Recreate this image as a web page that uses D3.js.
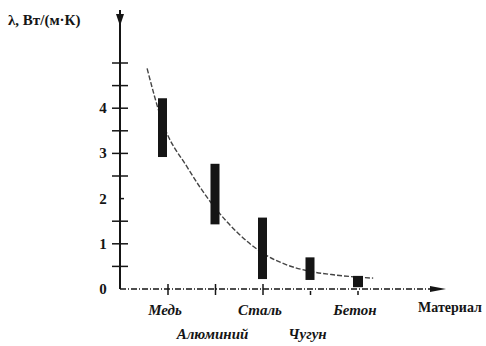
<!DOCTYPE html>
<html>
<head>
<meta charset="utf-8">
<script src="https://cdn.jsdelivr.net/npm/d3@7"></script>
<style>
  body { margin: 0; background: #fff; }
</style>
</head>
<body>
<div id="chart"></div>
<script>
// Materials along the x axis
const materials = ["Медь", "Алюминий", "Сталь", "Чугун", "Бетон"];
// Range of conductivity for each material (low, high)
const rangeLow = [2.92, 1.43, 0.22, 0.20, 0.04];
const rangeHigh = [4.22, 2.77, 1.58, 0.70, 0.29];
// Trend curve drawn through the bars (position in category units, value)
const curvePos = [-0.44, -0.13, 0.42, 0.95, 1.45, 2.0, 2.46, 2.95, 3.52, 4.32];
const curveVal = [4.88, 3.73, 2.67, 1.85, 1.26, 0.79, 0.55, 0.40, 0.31, 0.24];
// y tick labels
const yLabels = [0, 1, 2, 3, 4];
const yMinor = [0.5, 1, 1.5, 2, 2.5, 3, 3.5, 4, 4.5, 5];

const width = 486;
const height = 346;
const serif = "'Times New Roman', 'Liberation Serif', 'DejaVu Serif', serif";

const svg = d3.select("#chart")
    .append("svg")
    .attr("width", width)
    .attr("height", height)
    .style("font-family", serif);

const x = d3.scaleLinear().domain([0, 4]).range([168, 358]);
const y = d3.scaleLinear().domain([0, 5]).range([289, 63]);

const ink = "#151515";

// axes
svg.append("line")
    .attr("x1", 120).attr("x2", 120)
    .attr("y1", y(0)).attr("y2", 10)
    .attr("stroke", ink).attr("stroke-width", 2);
svg.append("path")
    .attr("d", "M116,14 L124,14 L120,26 Z")
    .attr("fill", ink);

svg.append("line")
    .attr("x1", 120).attr("x2", 440)
    .attr("y1", y(0)).attr("y2", y(0))
    .attr("stroke", ink).attr("stroke-width", 1.5)
    .attr("stroke-dasharray", "6,2,1,2");
svg.append("path")
    .attr("d", `M430,${y(0) - 3} L446,${y(0)} L430,${y(0) + 3} Z`)
    .attr("fill", ink);

// y ticks
svg.selectAll("line.ytick")
    .data(yMinor)
    .enter()
    .append("line")
    .attr("class", "ytick")
    .attr("x1", d => d === 2 ? 121 : 112)
    .attr("x2", d => d === 2 ? 124 : 128)
    .attr("y1", d => y(d)).attr("y2", d => y(d))
    .attr("stroke", ink).attr("stroke-width", 1.5);

svg.selectAll("text.ylab")
    .data(yLabels)
    .enter()
    .append("text")
    .attr("class", "ylab")
    .attr("x", 103)
    .attr("y", d => y(d) + 5)
    .attr("text-anchor", "middle")
    .attr("fill", ink)
    .style("font-family", serif)
    .style("font-size", "15px")
    .style("font-weight", "bold")
    .text(d => d);

// x ticks
svg.selectAll("line.xtick")
    .data(materials)
    .enter()
    .append("line")
    .attr("class", "xtick")
    .attr("x1", (d, i) => x(i)).attr("x2", (d, i) => x(i))
    .attr("y1", (d, i) => i < 3 ? y(0) - 5 : y(0) + 2)
    .attr("y2", y(0) + 6)
    .attr("stroke", ink).attr("stroke-width", 1.5);

// category labels, alternating rows
svg.selectAll("text.xlab")
    .data(materials)
    .enter()
    .append("text")
    .attr("class", "xlab")
    .attr("x", (d, i) => x(i) - 3)
    .attr("y", (d, i) => i % 2 === 0 ? 315 : 339)
    .attr("text-anchor", "middle")
    .attr("fill", ink)
    .style("font-family", serif)
    .style("font-size", "15px")
    .style("font-style", "italic")
    .style("font-weight", "bold")
    .text(d => d);

svg.append("text")
    .attr("x", 450)
    .attr("y", 312)
    .attr("text-anchor", "middle")
    .attr("fill", ink)
    .style("font-family", serif)
    .style("font-size", "14px")
    .style("font-weight", "bold")
    .text("Материал");

svg.append("text")
    .attr("x", 8)
    .attr("y", 25)
    .attr("fill", ink)
    .style("font-family", serif)
    .style("font-size", "15px")
    .style("font-weight", "bold")
    .text("λ, Вт/(м·К)");

// trend curve
const curveData = curvePos.map((p, i) => ({ p: p, v: curveVal[i] }));
const line = d3.line()
    .x(d => x(d.p))
    .y(d => y(d.v))
    .curve(d3.curveMonotoneX);

svg.append("path")
    .datum(curveData)
    .attr("fill", "none")
    .attr("stroke", "#444")
    .attr("stroke-width", 1.4)
    .attr("stroke-dasharray", "5,2")
    .attr("d", line);

// range bars
svg.selectAll("rect.range")
    .data(materials)
    .enter()
    .append("rect")
    .attr("class", "range")
    .attr("x", (d, i) => x(i) - (i === 0 ? 10 : 5))
    .attr("width", (d, i) => i === 4 ? 10 : 9)
    .attr("y", (d, i) => y(rangeHigh[i]))
    .attr("height", (d, i) => y(rangeLow[i]) - y(rangeHigh[i]))
    .attr("fill", ink);
</script>
</body>
</html>
